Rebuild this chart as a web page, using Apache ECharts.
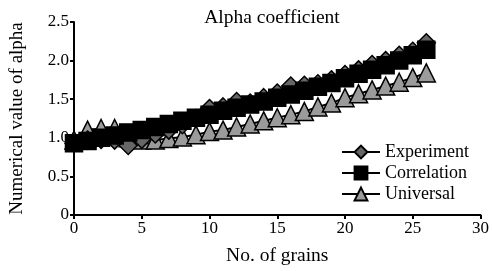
<!DOCTYPE html>
<html>
<head>
<meta charset="utf-8">
<script src="https://cdn.jsdelivr.net/npm/echarts@6/dist/echarts.min.js"></script>
<style>
  html, body { margin: 0; padding: 0; background: #fff; }
  #chart { width: 492px; height: 271px; }
</style>
</head>
<body>
<div id="chart"></div>
<script>
const grains = [0, 1, 2, 3, 4, 5, 6, 7, 8, 9, 10, 11, 12, 13, 14, 15, 16, 17, 18, 19, 20, 21, 22, 23, 24, 25, 26];
const experiment = [0.93, 0.97, 0.98, 0.97, 0.9, 0.98, 1.05, 1.1, 1.17, 1.25, 1.38, 1.4, 1.47, 1.45, 1.52, 1.58, 1.67, 1.68, 1.7, 1.75, 1.82, 1.88, 1.95, 2.0, 2.07, 2.12, 2.23];
const correlation = [0.93, 0.96, 1.0, 1.03, 1.07, 1.1, 1.14, 1.18, 1.22, 1.26, 1.3, 1.35, 1.39, 1.43, 1.47, 1.52, 1.56, 1.61, 1.66, 1.71, 1.77, 1.83, 1.88, 1.94, 2.0, 2.07, 2.14];
const universal = [0.97, 1.1, 1.12, 1.12, 1.0, 0.97, 0.97, 0.99, 1.01, 1.04, 1.08, 1.1, 1.14, 1.18, 1.22, 1.26, 1.3, 1.34, 1.4, 1.45, 1.52, 1.57, 1.62, 1.67, 1.72, 1.78, 1.84];

const font = "Liberation Serif";
const pairs = (ys) => grains.map((x, i) => [x, ys[i]]);

const mkSeries = (name, ys, symbol, size, fill, z) => ({
  name: name,
  type: "line",
  z: z,
  data: pairs(ys),
  symbol: symbol,
  symbolSize: size,
  showAllSymbol: true,
  lineStyle: { color: "#000", width: 2 },
  itemStyle: { color: fill, borderColor: "#000", borderWidth: 1.5 },
  emphasis: { disabled: true },
  animation: false,
});

const chart = echarts.init(document.getElementById("chart"));
const option = {
  animation: false,
  title: {
    text: "Alpha coefficient",
    left: 267,
    top: 3,
    textAlign: "center",
    textStyle: { fontFamily: font, fontSize: 19.5, fontWeight: "normal", color: "#000" },
  },
  legend: {
    orient: "vertical",
    left: 336,
    top: 138,
    itemGap: 3,
    itemWidth: 38,
    itemHeight: 16,
    textStyle: { fontFamily: font, fontSize: 18, color: "#000" },
    data: ["Experiment", "Correlation", "Universal"],
  },
  grid: { left: 74, right: 11, top: 22, bottom: 56 },
  xAxis: {
    type: "value",
    min: 0,
    max: 30,
    interval: 5,
    name: "No. of grains",
    nameLocation: "middle",
    nameGap: 31,
    nameTextStyle: { fontFamily: font, fontSize: 19.5, color: "#000" },
    axisLine: { lineStyle: { color: "#000", width: 2 } },
    axisTick: { show: true, length: 4, lineStyle: { color: "#000", width: 2 } },
    axisLabel: { fontFamily: font, fontSize: 17, color: "#000", margin: 5 },
    splitLine: { show: false },
  },
  yAxis: {
    type: "value",
    min: 0,
    max: 2.5,
    interval: 0.5,
    name: "Numerical value of alpha",
    nameLocation: "middle",
    nameGap: 47,
    nameTextStyle: { fontFamily: font, fontSize: 19, color: "#000" },
    axisLine: { show: true, lineStyle: { color: "#000", width: 2 } },
    axisTick: { show: true, length: 4, lineStyle: { color: "#000", width: 2 } },
    axisLabel: {
      fontFamily: font, fontSize: 17, color: "#000", margin: 5,
      formatter: (v) => (v === 0 ? "0" : v.toFixed(1)),
    },
    splitLine: { show: false },
  },
  series: [
    mkSeries("Experiment", experiment, "diamond", 18, "#666666", 3),
    mkSeries("Correlation", correlation, "rect", 17, "#000", 4),
    mkSeries("Universal", universal, "triangle", 18, "#9b9b9b", 2),
  ],
};
chart.setOption(option);
</script>
</body>
</html>
